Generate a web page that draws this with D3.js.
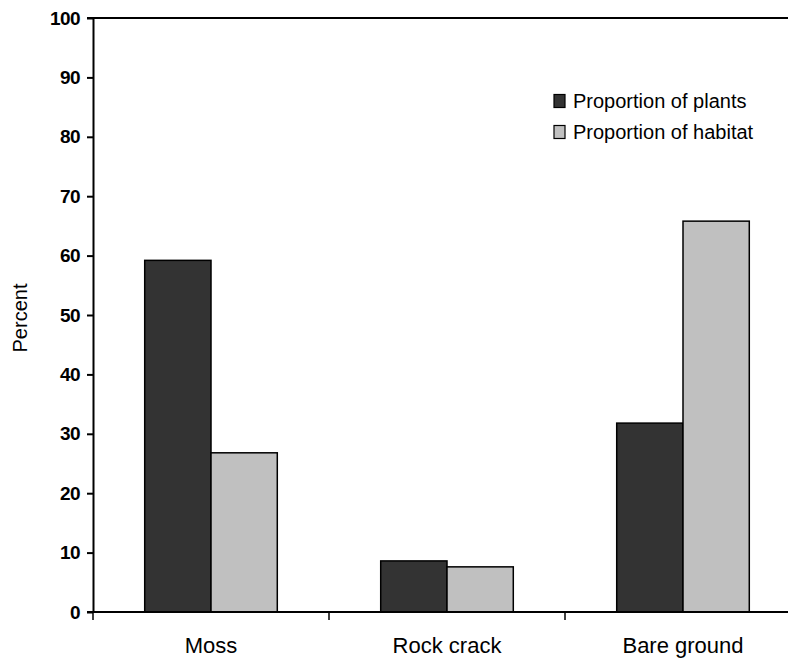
<!DOCTYPE html>
<html>
<head>
<meta charset="utf-8">
<script src="https://cdn.jsdelivr.net/npm/d3@7"></script>
<style>
  body { margin: 0; background: #fff; }
  svg { display: block; font-family: "Liberation Sans", Arial, sans-serif; }
</style>
</head>
<body>
<div id="chart"></div>
<script>
const categories = ["Moss", "Rock crack", "Bare ground"];
const series = ["Proportion of plants", "Proportion of habitat"];
const plants = [59.2, 8.6, 31.8];
const habitat = [26.8, 7.6, 65.8];
const yTicks = [0, 10, 20, 30, 40, 50, 60, 70, 80, 90, 100];
const colors = ["#333333", "#c0c0c0"];

const width = 788, height = 659;
const margin = { top: 18, left: 93, bottom: 47 };

const svg = d3.select("#chart").append("svg")
    .attr("width", width)
    .attr("height", height);

const x0 = d3.scaleBand()
    .domain(categories)
    .range([margin.left, margin.left + 3 * 236]);

const x1 = d3.scaleBand()
    .domain(series)
    .range([0, x0.bandwidth()])
    .paddingOuter(0.78);

const y = d3.scaleLinear()
    .domain([0, 100])
    .range([height - margin.bottom, margin.top]);

const values = [plants, habitat];

// bars
categories.forEach((c, i) => {
    series.forEach((s, j) => {
        svg.append("rect")
            .attr("x", x0(c) + x1(s))
            .attr("y", y(values[j][i]))
            .attr("width", x1.bandwidth())
            .attr("height", y(0) - y(values[j][i]))
            .attr("fill", colors[j])
            .attr("stroke", "#000")
            .attr("stroke-width", 1.5);
    });
});

// y axis
const yAxis = svg.append("g")
    .attr("transform", `translate(${margin.left},0)`)
    .call(d3.axisLeft(y).tickValues(yTicks).tickSize(6).tickPadding(7).tickSizeOuter(0));
yAxis.select(".domain").attr("stroke", "#000").attr("stroke-width", 2);
yAxis.selectAll(".tick line").attr("stroke-width", 2);
yAxis.selectAll(".tick text")
    .attr("font-size", 19)
    .attr("font-weight", "bold")
    .attr("letter-spacing", -0.6)
    .attr("fill", "#000")
    .attr("font-family", "Liberation Sans, Arial, sans-serif");

// x axis
const xAxis = svg.append("g")
    .attr("transform", `translate(0,${y(0)})`)
    .call(d3.axisBottom(x0).tickSize(0).tickPadding(25));
xAxis.select(".domain").attr("stroke", "#000").attr("stroke-width", 2)
    .attr("d", `M${margin.left - 6},0H${width}`);
xAxis.selectAll(".tick text")
    .attr("font-size", 22)
    .attr("fill", "#000")
    .attr("font-family", "Liberation Sans, Arial, sans-serif");

// x tick marks between categories
const boundaries = categories.map(c => x0(c));
svg.selectAll(".xb")
    .data(boundaries)
    .enter().append("line")
    .attr("x1", d => d).attr("x2", d => d)
    .attr("y1", y(0)).attr("y2", y(0) + 8)
    .attr("stroke", "#000")
    .attr("stroke-width", 1.5);

// top border
svg.append("line")
    .attr("x1", margin.left - 6).attr("x2", width)
    .attr("y1", y(100)).attr("y2", y(100))
    .attr("stroke", "#000")
    .attr("stroke-width", 2);

// y label
svg.append("text")
    .attr("transform", `translate(27,${(y(0) + y(100)) / 2 + 3}) rotate(-90)`)
    .attr("text-anchor", "middle")
    .attr("font-size", 20)
    .text("Percent");

// legend
const legend = svg.append("g").attr("transform", "translate(554,101)");
series.forEach((s, j) => {
    const g = legend.append("g").attr("transform", `translate(0,${j * 31})`);
    g.append("rect")
        .attr("x", 0).attr("y", -6.5)
        .attr("width", 11).attr("height", 13)
        .attr("fill", colors[j])
        .attr("stroke", "#000")
        .attr("stroke-width", 1.2);
    g.append("text")
        .attr("x", 19).attr("y", 0)
        .attr("dy", "0.35em")
        .attr("font-size", 20)
        .text(s);
});
</script>
</body>
</html>
